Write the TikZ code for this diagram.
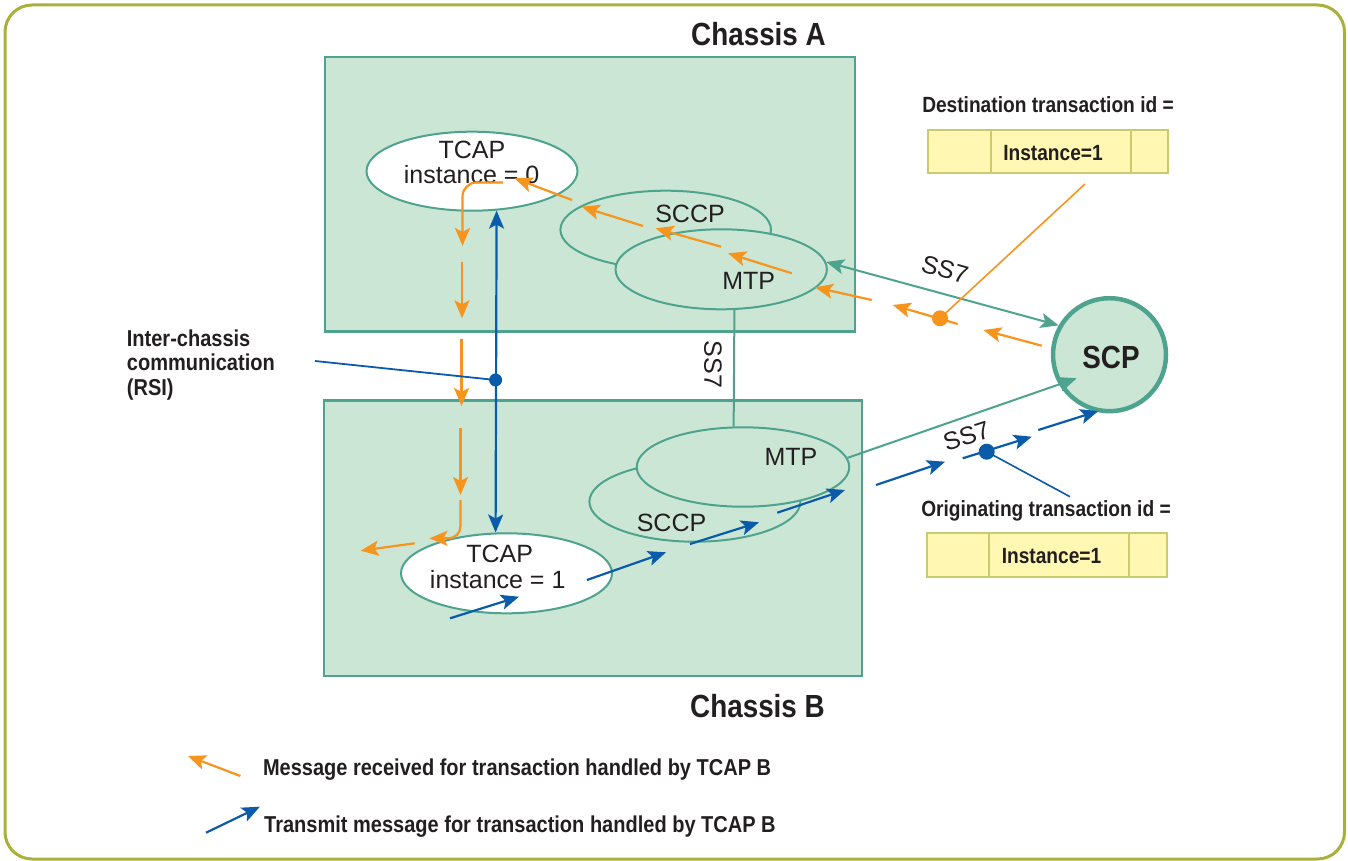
\documentclass[tikz,border=0pt]{standalone}
\usepackage{fontspec}
\setmainfont{Liberation Sans}
\newfontfamily\bcond{Liberation Sans}[FakeStretch=0.87]
\usetikzlibrary{shapes.geometric,arrows.meta}
\definecolor{frameol}{RGB}{169,176,59}
\definecolor{chfill}{RGB}{204,230,213}
\definecolor{tealc}{RGB}{77,163,142}
\definecolor{orangec}{RGB}{247,148,29}
\definecolor{bluec}{RGB}{10,91,170}
\definecolor{yelfill}{RGB}{255,247,178}
\definecolor{yelline}{RGB}{200,204,110}
\definecolor{txtc}{RGB}{35,31,32}
\begin{document}
\begin{tikzpicture}[x=1pt,y=-1pt,
  chassis/.style={draw=tealc, fill=chfill, line width=2.4pt, inner sep=0},
  layer/.style={ellipse, draw=tealc, fill=chfill, line width=2pt, inner sep=0},
  tcapbox/.style={layer, fill=white},
  htip/.style={-{Stealth[length=18pt,width=15pt,inset=4pt]}},
  oarr/.style={draw=orangec, line width=2.2pt, htip},
  barr/.style={draw=bluec, line width=2.2pt, htip},
  ss7line/.style={draw=tealc, line width=2pt},
  txt/.style={text=txtc, inner sep=0, font=\fontsize{25}{30}\selectfont},
  btxt/.style={text=txtc, inner sep=0, font=\bcond\bfseries\fontsize{23}{24.2}\selectfont},
  cell/.style={draw=yelline, fill=yelfill, line width=2pt, inner sep=0},
  dot/.style={circle, inner sep=0, minimum size=#1},
]
\useasboundingbox (0,0) rectangle (1348,861);
% frame
\draw[frameol, line width=3pt, rounded corners=27pt] (5,5) rectangle (1344.5,859);

% chassis
\node[chassis, minimum width=530pt, minimum height=274.7pt] (chA) at (590,194.3) {};
\node[chassis, minimum width=538pt, minimum height=275.3pt] (chB) at (593,538.3) {};
\node[btxt, font=\bcond\bfseries\fontsize{32}{34}\selectfont, anchor=base] (chAl) at (758.5,46) {Chassis A};
\node[btxt, font=\bcond\bfseries\fontsize{32}{34}\selectfont, anchor=base] (chBl) at (757.5,717.7) {Chassis B};

% layers chassis A
\node[layer, minimum width=210.6pt, minimum height=78pt] (sA) at (665.7,229.7) {};
\node[layer, minimum width=211.4pt, minimum height=80pt] (mA) at (721.2,269.3) {};
\node[tcapbox, minimum width=211pt, minimum height=79pt] (tA) at (472,171.2) {};
% layers chassis B
\node[layer, minimum width=211pt, minimum height=80pt] (sB) at (694.9,501.7) {};
\node[layer, minimum width=212.5pt, minimum height=79.4pt] (mB) at (743,467) {};
\node[tcapbox, minimum width=211pt, minimum height=80pt] (tB) at (506.5,573.3) {};

% SCP
\node[circle, draw=tealc, fill=chfill, line width=4.5pt, minimum size=113pt, inner sep=0] (scp) at (1109.5,354.7) {};
\node[btxt, font=\bcond\bfseries\fontsize{32}{34}\selectfont, anchor=base] (scpl) at (1111,368.3) {SCP};

% SS7 links
\draw[ss7line, {Stealth[length=18pt,width=15pt,inset=4pt]}-{Stealth[length=18pt,width=15pt,inset=4pt]}] (mA.4) -- (scp.150);
\coordinate (sctip) at (1076.7,378.3);
\draw[ss7line, htip] (mB.5) -- (sctip);
\draw[ss7line] (mA.-72) -- (mB.103);
\node[txt, rotate=-16] (ss7a) at (945,269.5) {SS7};
\node[txt, rotate=18] (ss7b) at (966.5,436) {SS7};
\node[txt, rotate=-90] (ss7c) at (713,364.5) {SS7};

% layer texts
\node[txt, anchor=base] (tA1) at (472,158.3) {TCAP};
\node[txt, anchor=base] (tA2) at (471.6,183.3) {instance = 0};
\node[txt, anchor=base] (sAl) at (690,222.7) {SCCP};
\node[txt, anchor=base] (mAl) at (748.7,289.3) {MTP};
\node[txt, anchor=base] (tB1) at (499.6,562.7) {TCAP};
\node[txt, anchor=base] (tB2) at (497.7,588.3) {instance = 1};
\node[txt, anchor=base] (mBl) at (791,465) {MTP};
\node[txt, anchor=base] (sBl) at (671.5,531.7) {SCCP};

% orange path (received message)
\coordinate (oa1s) at (1041.7,345.7); \coordinate (oa1e) at (983.3,330);
\coordinate (oa2s) at (957.7,324);    \coordinate (oa2e) at (892.7,305);
\coordinate (oa3s) at (871.7,300);    \coordinate (oa3e) at (815,287.3);
\coordinate (oa4s) at (791.8,273.3);  \coordinate (oa4e) at (728,253.3);
\coordinate (oa5s) at (721,246.7);    \coordinate (oa5e) at (655.7,228.3);
\coordinate (oa6s) at (643,226);      \coordinate (oa6e) at (581.7,206.7);
\coordinate (oa7s) at (572,200);      \coordinate (oa7e) at (514.6,178.3);
\coordinate (oa8s) at (503,182.5);    \coordinate (oa8e) at (462.5,246);
\coordinate (oa9s) at (462,261.7);    \coordinate (oa9e) at (462,318.3);
\coordinate (oa10s) at (461.5,339.3); \coordinate (oa10e) at (461.5,406);
\coordinate (oa11s) at (460.5,428.3); \coordinate (oa11e) at (460.5,495);
\coordinate (oa12s) at (460.5,500);   \coordinate (oa12e) at (429.5,538.3);
\coordinate (oa13s) at (414.7,543.3); \coordinate (oa13e) at (360.6,550.7);
\foreach \i in {1,2,3,4,5,6,7,9,10,11,13} {\draw[oarr] (oa\i s) -- (oa\i e);}
\draw[oarr, rounded corners=14pt] (oa8s) -| (oa8e);
\draw[oarr, rounded corners=12pt] (oa12s) |- (oa12e);

% blue path (transmit)
\draw[draw=bluec, line width=2.2pt, {Stealth[length=18pt,width=15pt,inset=4pt]}-{Stealth[length=18pt,width=15pt,inset=4pt]}] (tA.-58.5) -- (tB.105);
\coordinate (ba1s) at (450,618.3);   \coordinate (ba1e) at (519,596.7);
\coordinate (ba2s) at (586.9,580);   \coordinate (ba2e) at (666,552.3);
\coordinate (ba3s) at (690,544);     \coordinate (ba3e) at (759,522.3);
\coordinate (ba4s) at (777.3,512.7); \coordinate (ba4e) at (845,490);
\coordinate (ba5s) at (876,485);     \coordinate (ba5e) at (945,461.7);
\coordinate (ba6s) at (962.7,458.3); \coordinate (ba6e) at (1031.7,436.7);
\coordinate (ba7s) at (1038.3,430);  \coordinate (ba7e) at (1098.3,411);
\foreach \i in {1,...,7} {\draw[barr] (ba\i s) -- (ba\i e);}

% callout dots and leaders
\node[dot=16pt, fill=orangec] (odot) at (940,318.3) {};
\coordinate (destl) at (1085,184);
\draw[orangec, line width=1.6pt] (destl) -- (odot.center);
\node[dot=16pt, fill=bluec] (bdot2) at (986.7,451.7) {};
\coordinate (origl) at (1070,496.7);
\draw[bluec, line width=1.6pt] (origl) -- (bdot2.center);
\node[dot=13pt, fill=bluec] (bdot1) at (495.6,380) {};
\coordinate (rsil) at (315,361);
\draw[bluec, line width=1.8pt] (rsil) -- (bdot1.center);

% inter-chassis label
\node[btxt, align=left, anchor=north west] (rsi) at (126.7,329.9) {Inter-chassis\\communication\\(RSI)};

% destination / originating ids
\node[btxt, font=\bcond\bfseries\fontsize{22}{24}\selectfont, anchor=base] (destt) at (1048,112.7) {Destination transaction id =};
\node[cell, minimum width=62.4pt, minimum height=42.7pt] (d1) at (959.5,151.35) {};
\node[cell, minimum width=140.3pt, minimum height=42.7pt] (d2) at (1060.85,151.35) {};
\node[cell, minimum width=37.3pt, minimum height=42.7pt] (d3) at (1149.65,151.35) {};
\node[btxt, font=\bcond\bfseries\fontsize{22}{24}\selectfont, anchor=base] (d2t) at (1053,161) {Instance=1};

\node[btxt, font=\bcond\bfseries\fontsize{22}{24}\selectfont, anchor=base] (origt) at (1046,516) {Originating transaction id =};
\node[cell, minimum width=62.3pt, minimum height=43.4pt] (o1) at (957.85,555) {};
\node[cell, minimum width=140.3pt, minimum height=43.4pt] (o2) at (1059.15,555) {};
\node[cell, minimum width=38pt, minimum height=43.4pt] (o3) at (1148.3,555) {};
\node[btxt, font=\bcond\bfseries\fontsize{22}{24}\selectfont, anchor=base] (o2t) at (1051.5,563.3) {Instance=1};

% legend
\coordinate (lo1) at (240.4,776); \coordinate (lo2) at (188,756);
\draw[oarr] (lo1) -- (lo2);
\node[btxt, anchor=base west] (leg1) at (262.8,775) {Message received for transaction handled by TCAP B};
\coordinate (lb1) at (206,832.7); \coordinate (lb2) at (259.9,806.7);
\draw[barr] (lb1) -- (lb2);
\node[btxt, anchor=base west] (leg2) at (264,832.7) {Transmit message for transaction handled by TCAP B};
\end{tikzpicture}
\end{document}
